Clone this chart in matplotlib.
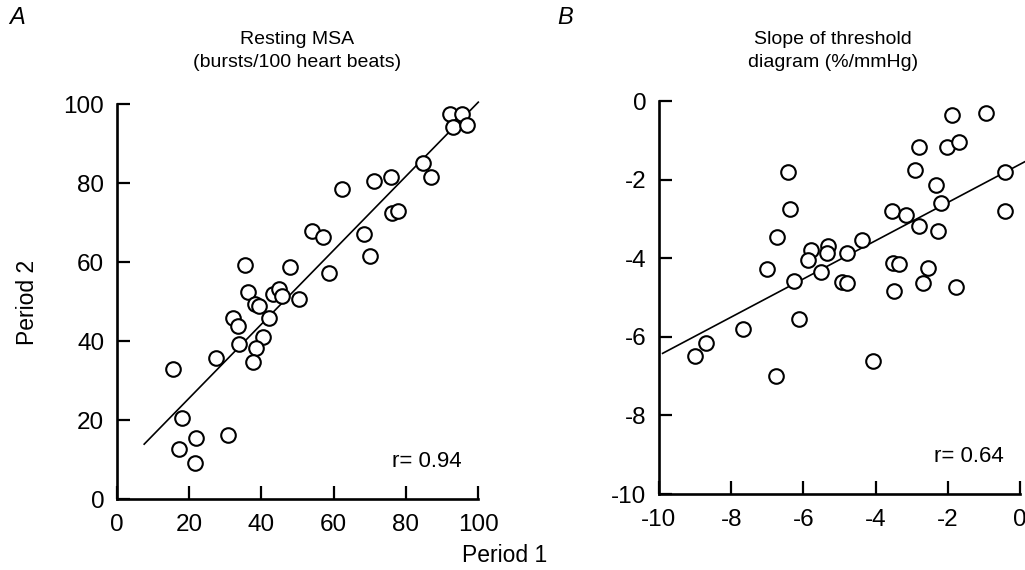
"""Period 1 vs period 2 scatter plots: resting MSA and threshold-diagram slope."""
import matplotlib
matplotlib.use("Agg")
import matplotlib.pyplot as plt
import numpy as np

plt.rcParams["font.family"] = ["Liberation Sans", "DejaVu Sans"]
plt.rcParams["axes.unicode_minus"] = False

# ── data ─────────────────────────────────────────────────────────────────────
msa_p1 = [92.3, 95.4, 93.1, 97.0, 84.8, 86.9, 75.8, 71.2, 62.4, 76.0, 77.9, 68.4, 70.0,
          53.9, 57.0, 58.8, 47.9, 35.5, 36.2, 43.3, 44.9, 45.6, 50.5, 38.2, 39.4, 42.2,
          32.3, 33.6, 40.4, 33.9, 38.4, 37.8, 27.4, 15.7, 18.0, 17.3, 21.9, 21.7, 30.9]
msa_p2 = [97.6, 97.6, 94.3, 94.8, 85.1, 81.5, 81.6, 80.5, 78.6, 72.6, 72.9, 67.2, 61.6,
          68.0, 66.4, 57.4, 58.7, 59.3, 52.6, 52.0, 53.2, 51.5, 50.6, 49.4, 48.9, 45.8,
          45.8, 43.9, 41.2, 39.2, 38.4, 34.7, 35.8, 32.9, 20.5, 12.8, 15.6, 9.3, 16.4]
msa_fit = (0.937, 6.84)          # slope, intercept
msa_fit_range = (7.6, 100.0)

slope_p1 = [-1.88, -0.94, -2.80, -2.02, -1.70, -2.90, -2.32, -2.20, -0.41, -0.42,
            -3.54, -3.17, -2.79, -2.28, -2.56, -3.51, -3.36, -2.69, -3.50, -1.77,
            -4.07, -4.37, -4.79, -4.93, -4.79, -5.31, -5.34, -5.78, -5.88, -5.51,
            -6.26, -6.11, -6.43, -6.38, -6.73, -7.00, -6.75, -7.67, -8.69, -9.01]
slope_p2 = [-0.35, -0.31, -1.17, -1.16, -1.05, -1.75, -2.13, -2.59, -1.81, -2.80,
            -2.80, -2.89, -3.18, -3.31, -4.25, -4.11, -4.15, -4.62, -4.83, -4.74,
            -6.62, -3.54, -3.87, -4.60, -4.64, -3.70, -3.88, -3.80, -4.04, -4.36,
            -4.59, -5.54, -1.81, -2.74, -3.46, -4.28, -7.00, -5.81, -6.15, -6.49]
slope_fit = (0.486, -1.61)
slope_fit_range = (-9.9, 0.14)

msa_ticks = [0, 20, 40, 60, 80, 100]
slope_ticks = [-10, -8, -6, -4, -2, 0]

W, H = 1025, 570
fig = plt.figure(figsize=(W / 100, H / 100), dpi=100)

def px(left, top, right, bottom):
    return [left / W, 1 - bottom / H, (right - left) / W, (bottom - top) / H]

def panel(rect, x, y, fit, fit_range, ticks, r_text):
    ax = fig.add_axes(rect)
    ax.plot(x, y, "o", ms=10.5, mfc="white", mec="black", mew=1.5, clip_on=False, zorder=3)
    xs = np.array(fit_range)
    ax.plot(xs, fit[0] * xs + fit[1], color="black", lw=1.2, clip_on=False, zorder=2)
    ax.set_xlim(ticks[0], ticks[-1])
    ax.set_ylim(ticks[0], ticks[-1])
    ax.set_xticks(ticks)
    ax.set_yticks(ticks)
    for s in ("top", "right"):
        ax.spines[s].set_visible(False)
    for s in ("left", "bottom"):
        ax.spines[s].set_linewidth(1.9)
    ax.tick_params(direction="in", length=9.5, width=1.6, labelsize=17.5)
    ax.tick_params(axis="x", pad=10.5)
    ax.tick_params(axis="y", pad=9)
    ax.text(0.955, 0.095, r_text, transform=ax.transAxes, ha="right", va="center",
            fontsize=16)
    return ax

panel(px(116.7, 104.3, 478.3, 499.3), msa_p1, msa_p2, msa_fit, msa_fit_range,
      msa_ticks, "r= 0.94")
panel(px(659, 101, 1020, 494), slope_p1, slope_p2, slope_fit, slope_fit_range,
      slope_ticks, "r= 0.64")

fig.text(297 / W, 1 - 51 / H, "Resting MSA\n(bursts/100 heart beats)", ha="center",
         va="center", fontsize=14, linespacing=1.5)
fig.text(833 / W, 1 - 51 / H, "Slope of threshold\ndiagram (%/mmHg)", ha="center",
         va="center", fontsize=14, linespacing=1.5)
fig.text(17 / W, 1 - 18 / H, "A", ha="center", va="center", fontsize=17, style="italic")
fig.text(565 / W, 1 - 18 / H, "B", ha="center", va="center", fontsize=17, style="italic")
fig.text(505 / W, 1 - 556 / H, "Period 1", ha="center", va="center", fontsize=16.5)
fig.text(27 / W, 1 - 302 / H, "Period 2", ha="center", va="center", fontsize=16.5,
         rotation=90)

fig.savefig("out.png", dpi=100)
